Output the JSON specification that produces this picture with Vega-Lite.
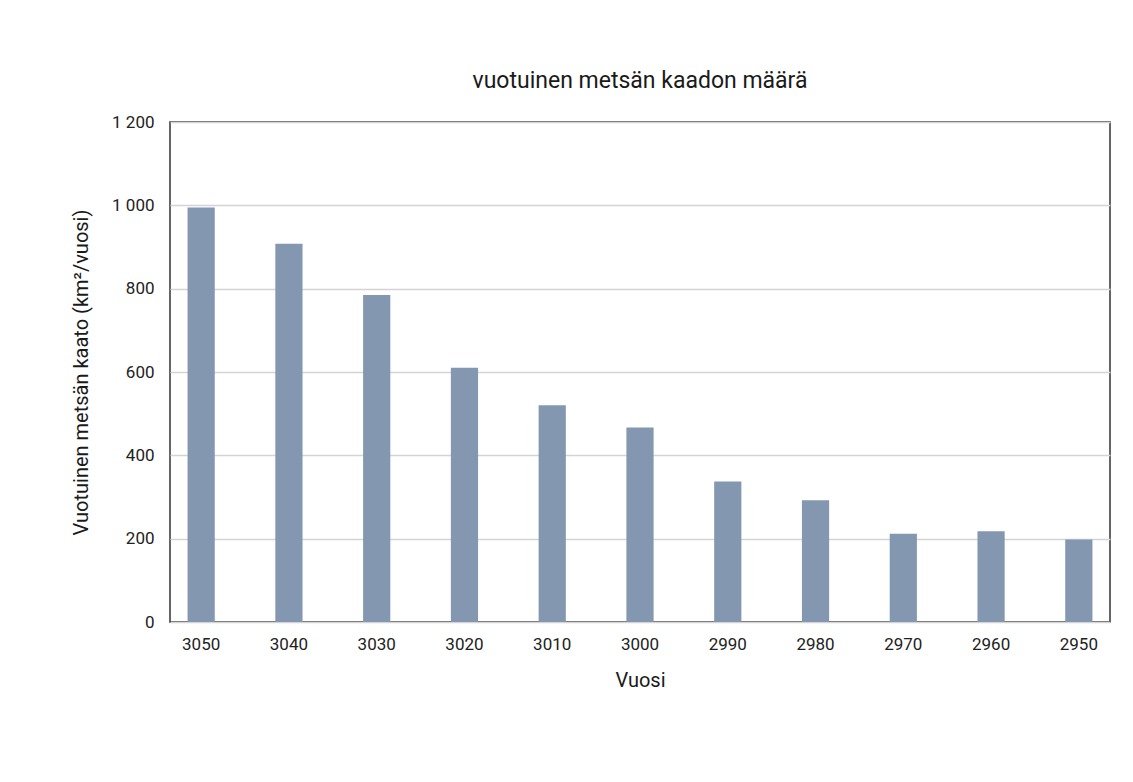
{
  "$schema": "https://vega.github.io/schema/vega-lite/v6.json",
  "autosize": "none",
  "width": 940,
  "height": 500,
  "padding": {"left": 170, "top": 122, "right": 23, "bottom": 160},
  "background": "white",
  "title": {"text": "vuotuinen metsän kaadon määrä", "fontSize": 23, "font": "Roboto", "fontWeight": "normal", "color": "#1a1a1a", "offset": 20},
  "data": {
    "values": [
      {"vuosi": "3050", "kaato": 995},
      {"vuosi": "3040", "kaato": 908},
      {"vuosi": "3030", "kaato": 785},
      {"vuosi": "3020", "kaato": 610},
      {"vuosi": "3010", "kaato": 520},
      {"vuosi": "3000", "kaato": 467},
      {"vuosi": "2990", "kaato": 337},
      {"vuosi": "2980", "kaato": 292},
      {"vuosi": "2970", "kaato": 212},
      {"vuosi": "2960", "kaato": 218},
      {"vuosi": "2950", "kaato": 198}
    ]
  },
  "mark": {"type": "bar", "color": "#8497b0"},
  "encoding": {
    "x": {
      "field": "vuosi", "type": "nominal", "sort": null,
      "scale": {"paddingInner": 0.69, "paddingOuter": 0.2},
      "axis": {"title": "Vuosi", "labelAngle": 0, "ticks": false, "domain": false, "labelPadding": 14, "titlePadding": 18}
    },
    "y": {
      "field": "kaato", "type": "quantitative",
      "scale": {"domain": [0, 1200]},
      "axis": {"title": "Vuotuinen metsän kaato (km²/vuosi)", "values": [0, 200, 400, 600, 800, 1000, 1200], "format": ",d", "ticks": false, "domain": false, "labelPadding": 16, "titlePadding": 20}
    }
  },
  "config": {
    "locale": {"number": {"decimal": ",", "thousands": " ", "grouping": [3], "currency": ["", " €"]}},
    "view": {"stroke": "#333333", "strokeWidth": 1.5},
    "axis": {
      "labelFont": "Roboto", "labelFontSize": 17, "labelColor": "#222222",
      "titleFont": "Roboto", "titleFontSize": 20, "titleFontWeight": "normal", "titleColor": "#1a1a1a",
      "gridColor": "#d4d4d4", "gridWidth": 1.5
    }
  }
}
